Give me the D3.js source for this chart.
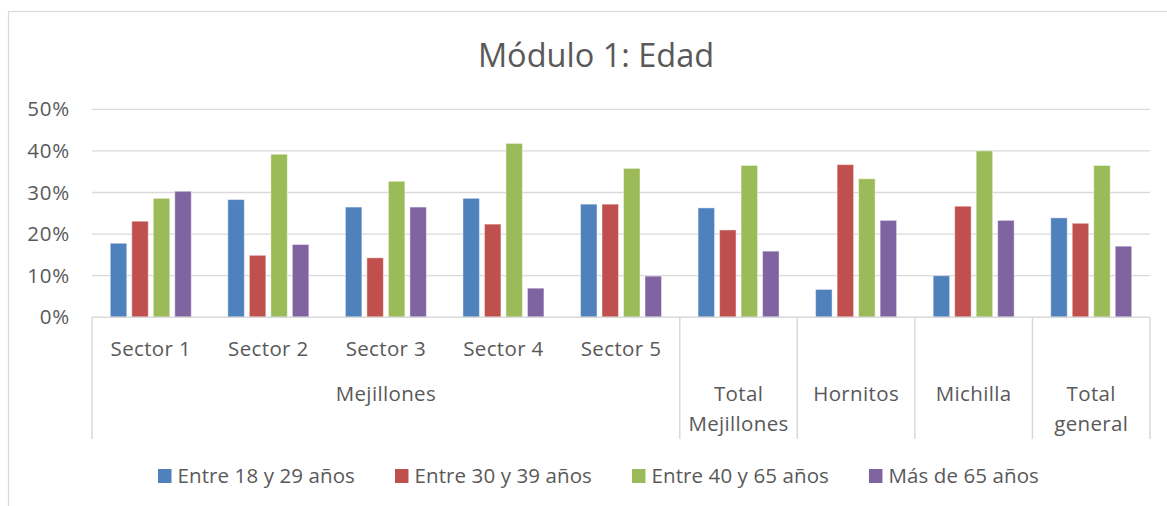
<!DOCTYPE html>
<html>
<head>
<meta charset="utf-8">
<script src="https://cdn.jsdelivr.net/npm/d3@7/dist/d3.min.js"></script>
<style>
  html, body { margin: 0; padding: 0; background: #fff; }
  svg { display: block; font-family: "Open Sans", Lato, sans-serif; }
</style>
</head>
<body>
<svg id="chart" width="1167" height="506"></svg>
<script>
// Categories along the x axis (inner level) and their outer-level grouping
const categories = ["Sector 1", "Sector 2", "Sector 3", "Sector 4", "Sector 5",
                    "Total Mejillones", "Hornitos", "Michilla", "Total general"];
const sectorCategories = ["Sector 1", "Sector 2", "Sector 3", "Sector 4", "Sector 5"];
const mejillonesGroup = "Mejillones";
const standaloneLabels = [["Total", "Mejillones"], ["Hornitos"], ["Michilla"], ["Total", "general"]];

// Series names and values (percent of respondents)
const seriesNames = ["Entre 18 y 29 años", "Entre 30 y 39 años", "Entre 40 y 65 años", "Más de 65 años"];
const entre18y29 = [17.8, 28.3, 26.5, 28.6, 27.2, 26.3, 6.7, 10.0, 23.9];
const entre30y39 = [23.1, 14.9, 14.3, 22.4, 27.2, 21.0, 36.7, 26.7, 22.6];
const entre40y65 = [28.6, 39.2, 32.7, 41.8, 35.8, 36.5, 33.3, 40.0, 36.5];
const masDe65 = [30.3, 17.5, 26.5, 7.0, 9.9, 15.9, 23.3, 23.3, 17.1];
const seriesValues = [entre18y29, entre30y39, entre40y65, masDe65];
const seriesColors = ["#4F81BD", "#C0504D", "#9BBB59", "#8064A2"];

// Y axis ticks
const yTicks = [0, 10, 20, 30, 40, 50];

const title = "Módulo 1: Edad";

const svg = d3.select("#chart");
const textColor = "#595959";
const lineColor = "#d9d9d9";
const labelSize = 20.5;
const labelSpacing = 0.35;
const legendSpacing = 0.1;

// Chart area outline (left and top edges visible)
svg.append("rect")
  .attr("x", 8.5).attr("y", 11.5)
  .attr("width", 1300).attr("height", 700)
  .attr("fill", "#fff")
  .attr("stroke", lineColor).attr("stroke-width", 1.2);

const plot = { left: 92, right: 1150, top: 109.3, bottom: 317.3 };

const x = d3.scaleBand().domain(categories).range([plot.left, plot.right]).padding(0);
const groupSpan = 81;
const x1 = d3.scaleBand().domain(d3.range(seriesNames.length))
  .range([(x.bandwidth() - groupSpan) / 2, (x.bandwidth() + groupSpan) / 2])
  .paddingInner(0.233).paddingOuter(0);
const y = d3.scaleLinear().domain([0, 50]).range([plot.bottom, plot.top]);

// Title
svg.append("text")
  .attr("x", 596).attr("y", 67)
  .attr("text-anchor", "middle")
  .attr("fill", textColor)
  .attr("font-size", 32.5)
  .text(title);

// Horizontal gridlines
svg.append("g").selectAll("line")
  .data(yTicks.filter(d => d > 0))
  .join("line")
  .attr("x1", plot.left).attr("x2", plot.right)
  .attr("y1", d => y(d)).attr("y2", d => y(d))
  .attr("stroke", lineColor).attr("stroke-width", 1.3);

// Y axis labels
const yAxis = d3.axisLeft(y).tickValues(yTicks).tickFormat(d => d + "%").tickSize(0).tickPadding(22);
const yAxisG = svg.append("g").attr("transform", `translate(${plot.left},0)`).call(yAxis);
yAxisG.select(".domain").remove();
yAxisG.selectAll("text")
  .attr("fill", textColor)
  .attr("font-size", labelSize)
  .attr("letter-spacing", 0.8)
  .attr("font-family", "'Open Sans', sans-serif");

// Bars
const groups = svg.append("g").selectAll("g")
  .data(categories)
  .join("g")
  .attr("transform", d => `translate(${x(d)},0)`);

groups.selectAll("rect")
  .data((d, i) => seriesValues.map((vals, s) => ({ s, v: vals[i] })))
  .join("rect")
  .attr("x", d => x1(d.s))
  .attr("width", x1.bandwidth())
  .attr("y", d => y(d.v))
  .attr("height", d => y(0) - y(d.v))
  .attr("fill", d => seriesColors[d.s])
  .attr("stroke", "#fff").attr("stroke-opacity", 0.45).attr("stroke-width", 1);

// Category axis line
const axisBottom = plot.bottom;
const labelBottom = 439;
svg.append("line")
  .attr("x1", plot.left).attr("x2", plot.right)
  .attr("y1", axisBottom).attr("y2", axisBottom)
  .attr("stroke", lineColor).attr("stroke-width", 1.5);

// Vertical separators between outer-level groups
const separators = [plot.left, x("Total Mejillones"), x("Hornitos"), x("Michilla"), x("Total general"), plot.right];
svg.append("g").selectAll("line")
  .data(separators)
  .join("line")
  .attr("x1", d => d).attr("x2", d => d)
  .attr("y1", axisBottom).attr("y2", labelBottom)
  .attr("stroke", lineColor).attr("stroke-width", 1.5);

// Inner-level labels (sectors)
svg.append("g").selectAll("text")
  .data(sectorCategories)
  .join("text")
  .attr("x", d => x(d) + x.bandwidth() / 2)
  .attr("y", 356)
  .attr("text-anchor", "middle")
  .attr("fill", textColor)
  .attr("font-size", labelSize)
  .attr("letter-spacing", labelSpacing)
  .text(d => d);

// Outer-level label for the sectors
svg.append("text")
  .attr("x", (plot.left + x("Total Mejillones")) / 2)
  .attr("y", 401)
  .attr("text-anchor", "middle")
  .attr("fill", textColor)
  .attr("font-size", labelSize)
  .attr("letter-spacing", labelSpacing)
  .text(mejillonesGroup);

// Standalone categories spanning both levels
const standalone = categories.slice(5);
standalone.forEach((cat, i) => {
  const t = svg.append("text")
    .attr("x", x(cat) + x.bandwidth() / 2)
    .attr("y", 401)
    .attr("text-anchor", "middle")
    .attr("fill", textColor)
    .attr("font-size", labelSize)
    .attr("letter-spacing", labelSpacing);
  standaloneLabels[i].forEach((line, j) => {
    t.append("tspan")
      .attr("x", x(cat) + x.bandwidth() / 2)
      .attr("dy", j === 0 ? 0 : 30)
      .text(line);
  });
});

// Legend
const legend = svg.append("g");
const items = legend.selectAll("g")
  .data(seriesNames)
  .join("g");
items.append("rect")
  .attr("width", 13.5).attr("height", 14)
  .attr("y", 469)
  .attr("fill", (d, i) => seriesColors[i]);
items.append("text")
  .attr("x", 19.5).attr("y", 483)
  .attr("fill", textColor)
  .attr("font-size", labelSize)
  .attr("letter-spacing", legendSpacing)
  .text(d => d);
let widths = [];
items.each(function () { widths.push(19.5 + d3.select(this).select("text").node().getComputedTextLength()); });
const gap = 40;
const total = d3.sum(widths) + gap * (widths.length - 1);
let cx = 598.5 - total / 2;
items.each(function (d, i) {
  d3.select(this).attr("transform", `translate(${cx},0)`);
  cx += widths[i] + gap;
});
</script>
</body>
</html>
